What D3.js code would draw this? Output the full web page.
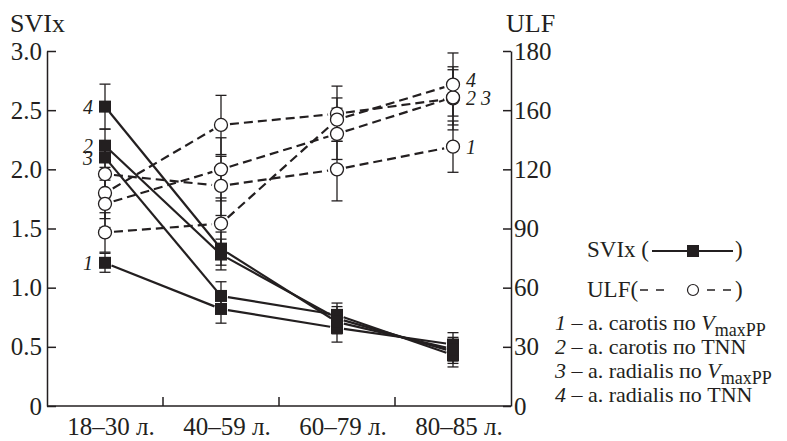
<!DOCTYPE html>
<html>
<head>
<meta charset="utf-8">
<script src="https://cdn.jsdelivr.net/npm/d3@7"></script>
<style>
  body { margin: 0; background: #fff; }
</style>
</head>
<body>
<div id="chart"></div>
<script>
// Age groups on the x axis
var ages = ["18–30 л.", "40–59 л.", "60–79 л.", "80–85 л."];

// SVIx (left axis), series 1..4
var svix1 = [1.21, 0.82, 0.66, 0.52];
var svix2 = [2.20, 1.28, 0.74, 0.46];
var svix3 = [2.10, 0.93, 0.77, 0.43];
var svix4 = [2.53, 1.33, 0.71, 0.48];
var svixErr1 = [0.08, 0.12, 0.12, 0.10];
var svixErr2 = [0.14, 0.13, 0.10, 0.10];
var svixErr3 = [0.12, 0.12, 0.10, 0.10];
var svixErr4 = [0.19, 0.14, 0.10, 0.10];

// ULF (right axis), series 1..4
var ulf1 = [117.6, 111.6, 120.0, 131.5];
var ulf2 = [108.0, 142.5, 148.2, 156.0];
var ulf3 = [102.5, 120.0, 138.0, 156.5];
var ulf4 = [88.0, 92.5, 145.2, 163.0];
var ulfErr1 = [12, 15, 16, 13];
var ulfErr2 = [13, 15, 14, 16];
var ulfErr3 = [12, 16, 13, 14];
var ulfErr4 = [10, 13, 11, 16];

// Tick values and labels (the 150 tick is printed as "160" in the original)
var svixTicks = [0, 0.5, 1.0, 1.5, 2.0, 2.5, 3.0];
var svixTickLabels = ["0", "0.5", "1.0", "1.5", "2.0", "2.5", "3.0"];
var ulfTicks = [0, 30, 60, 90, 120, 150, 180];
var ulfTickLabels = ["0", "30", "60", "90", "120", "160", "180"];

// Series numbers shown on the chart
var svixStartLabels = ["1", "2", "3", "4"];
var ulfEndLabels = ["1", "2 3", "", "4"];

// Legend entries
var legendNames = ["– a. carotis по ", "– a. carotis по TNN", "– a. radialis по ", "– a. radialis по TNN"];
var legendSub = [true, false, true, false];

var svixSeries = [svix1, svix2, svix3, svix4];
var svixErrs = [svixErr1, svixErr2, svixErr3, svixErr4];
var ulfSeries = [ulf1, ulf2, ulf3, ulf4];
var ulfErrs = [ulfErr1, ulfErr2, ulfErr3, ulfErr4];

var width = 787, height = 441;
var plotLeft = 47, plotRight = 511, plotTop = 51, plotBottom = 406;
var ink = "#231f20";
var serifFace = "'Liberation Serif'";

var svg = d3.select("#chart").append("svg")
    .attr("width", width)
    .attr("height", height);

var x = d3.scaleBand().domain(ages).range([plotLeft, plotRight]).padding(0);
var cx = function (i) { return x(ages[i]) + x.bandwidth() / 2; };
var yL = d3.scaleLinear().domain([0, 3]).range([plotBottom, plotTop]);
var yR = d3.scaleLinear().domain([0, 180]).range([plotBottom, plotTop]);

// Left axis
var leftAxis = svg.append("g")
    .attr("transform", `translate(${plotLeft},0)`)
    .call(d3.axisLeft(yL).tickValues(svixTicks)
        .tickFormat(function (d, i) { return svixTickLabels[i]; })
        .tickSizeInner(-9).tickSizeOuter(0).tickPadding(5));

// Right axis
var rightAxis = svg.append("g")
    .attr("transform", `translate(${plotRight},0)`)
    .call(d3.axisRight(yR).tickValues(ulfTicks)
        .tickFormat(function (d, i) { return ulfTickLabels[i]; })
        .tickSizeInner(-8).tickSizeOuter(0).tickPadding(3));

[leftAxis, rightAxis].forEach(function (a) {
    a.attr("font-size", 25);
    a.selectAll("path, line").attr("stroke", ink).attr("stroke-width", 1.5);
    a.selectAll("text").attr("fill", ink);
});

// Bottom axis: line, ticks between groups, labels
svg.append("line")
    .attr("x1", plotLeft).attr("x2", plotRight)
    .attr("y1", plotBottom).attr("y2", plotBottom)
    .attr("stroke", ink).attr("stroke-width", 1.5);

svg.selectAll(".xtick").data(ages.slice(1)).enter().append("line")
    .attr("x1", function (d) { return x(d); }).attr("x2", function (d) { return x(d); })
    .attr("y1", plotBottom).attr("y2", plotBottom - 9)
    .attr("stroke", ink).attr("stroke-width", 1.5);

svg.selectAll(".xlabel").data(ages).enter().append("text")
    .attr("x", function (d, i) { return cx(i) + 6; })
    .attr("y", 435)
    .attr("text-anchor", "middle")
    .attr("font-size", 25)
    .attr("fill", ink)
    .text(function (d) { return d; });

// Axis titles
svg.append("text").attr("x", 10).attr("y", 32).attr("font-size", 26).attr("fill", ink).text("SVIx");
svg.append("text").attr("x", 506).attr("y", 32).attr("font-size", 26).attr("fill", ink).text("ULF");

// Error bars
function drawErrors(series, errs, y) {
    series.forEach(function (s, k) {
        s.forEach(function (v, i) {
            var g = svg.append("g").attr("stroke", ink).attr("stroke-width", 1.3);
            var x0 = cx(i);
            g.append("line").attr("x1", x0).attr("x2", x0)
                .attr("y1", y(v - errs[k][i])).attr("y2", y(v + errs[k][i]));
            [v - errs[k][i], v + errs[k][i]].forEach(function (e) {
                g.append("line").attr("x1", x0 - 5.5).attr("x2", x0 + 5.5)
                    .attr("y1", y(e)).attr("y2", y(e));
            });
        });
    });
}
drawErrors(svixSeries, svixErrs, yL);
drawErrors(ulfSeries, ulfErrs, yR);

// Lines: each segment stops a little short of the markers
function drawSegments(s, y, gap, dash) {
    d3.pairs(s.map(function (v, i) { return [cx(i), y(v)]; })).forEach(function (p) {
        var dx = p[1][0] - p[0][0], dy = p[1][1] - p[0][1];
        var len = Math.sqrt(dx * dx + dy * dy), ux = dx / len, uy = dy / len;
        svg.append("line")
            .attr("x1", p[0][0] + ux * gap).attr("y1", p[0][1] + uy * gap)
            .attr("x2", p[1][0] - ux * gap).attr("y2", p[1][1] - uy * gap)
            .attr("stroke", ink).attr("stroke-width", 2.2)
            .attr("stroke-dasharray", dash);
    });
}
ulfSeries.forEach(function (s) { drawSegments(s, yR, 9, "9,5"); });
svixSeries.forEach(function (s) { drawSegments(s, yL, 7, null); });

// Markers
ulfSeries.forEach(function (s) {
    svg.selectAll(null).data(s).enter().append("circle")
        .attr("cx", function (d, i) { return cx(i); })
        .attr("cy", function (d) { return yR(d); })
        .attr("r", 6.5)
        .attr("fill", "#fff").attr("stroke", ink).attr("stroke-width", 1.3);
});
svixSeries.forEach(function (s) {
    svg.selectAll(null).data(s).enter().append("rect")
        .attr("x", function (d, i) { return cx(i) - 6; })
        .attr("y", function (d) { return yL(d) - 6; })
        .attr("width", 12).attr("height", 12)
        .attr("fill", ink);
});

// Series numbers
svixSeries.forEach(function (s, k) {
    svg.append("text")
        .attr("x", cx(0) - 12).attr("y", yL(s[0]) + 7)
        .attr("text-anchor", "end").attr("font-size", 20).attr("font-style", "italic")
        .attr("fill", ink)
        .text(svixStartLabels[k]);
});
ulfSeries.forEach(function (s, k) {
    if (!ulfEndLabels[k]) return;
    svg.append("text")
        .attr("x", cx(3) + 13).attr("y", yR(s[3]) + (k === 3 ? 2 : 7))
        .attr("font-size", 20).attr("font-style", "italic")
        .attr("fill", ink)
        .text(ulfEndLabels[k]);
});

// Legend
var lg = svg.append("g").attr("fill", ink);
lg.append("text").attr("x", 587).attr("y", 257).attr("font-size", 23).text("SVIx (");
lg.append("line").attr("x1", 652).attr("x2", 733).attr("y1", 251).attr("y2", 251)
    .attr("stroke", ink).attr("stroke-width", 2);
lg.append("rect").attr("x", 687).attr("y", 245).attr("width", 12).attr("height", 12).attr("fill", ink);
lg.append("text").attr("x", 735).attr("y", 257).attr("font-size", 23).text(")");

lg.append("text").attr("x", 587).attr("y", 297).attr("font-size", 23).text("ULF(");
lg.append("line").attr("x1", 640).attr("x2", 664).attr("y1", 290).attr("y2", 290)
    .attr("stroke", ink).attr("stroke-width", 1.5).attr("stroke-dasharray", "8,8");
lg.append("line").attr("x1", 707).attr("x2", 731).attr("y1", 290).attr("y2", 290)
    .attr("stroke", ink).attr("stroke-width", 1.5).attr("stroke-dasharray", "8,8");
lg.append("circle").attr("cx", 693).attr("cy", 290).attr("r", 5.5)
    .attr("fill", "#fff").attr("stroke", ink).attr("stroke-width", 1.2);
lg.append("text").attr("x", 735).attr("y", 297).attr("font-size", 23).text(")");

legendNames.forEach(function (name, k) {
    var t = lg.append("text").attr("x", 555).attr("y", 330 + k * 24).attr("font-size", 22);
    t.append("tspan").attr("font-style", "italic").text(svixStartLabels[k] + " ");
    t.append("tspan").text(name);
    if (legendSub[k]) {
        t.append("tspan").attr("font-style", "italic").text("V");
        t.append("tspan").attr("dy", 6).attr("font-size", 18).text("maxPP");
    }
});

// Serif face on every text (set last so the axis defaults are overridden)
svg.selectAll("text").style("font-family", serifFace);
</script>
</body>
</html>
